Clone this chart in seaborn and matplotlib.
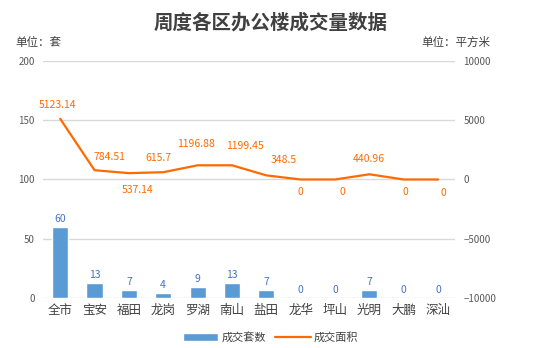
import matplotlib
matplotlib.use("Agg")
import matplotlib.pyplot as plt
import seaborn as sns
import pandas as pd

categories = ["全市", "宝安", "福田", "龙岗", "罗湖", "南山", "盐田", "龙华", "坪山", "光明", "大鹏", "深汕"]
units = [60, 13, 7, 4, 9, 13, 7, 0, 0, 7, 0, 0]
area = [5123.14, 784.51, 537.14, 615.7, 1196.88, 1199.45, 348.5, 0, 0, 440.96, 0, 0]
area_labels = ["5123.14", "784.51", "537.14", "615.7", "1196.88", "1199.45", "348.5", "0", "0", "440.96", "0", "0"]

sns.set_theme(style="white")
plt.rcParams['font.family'] = ['Noto Sans CJK SC', 'DejaVu Sans']

df = pd.DataFrame({"区": categories, "成交套数": units, "成交面积": area, "idx": range(len(categories))})

fig = plt.figure(figsize=(5.41, 3.48), dpi=100)
ax = fig.add_axes([0.0795, 0.1437, 0.762, 0.681])
bar_color = "#5B9BD5"
line_color = "#FF6A00"
grid_color = "#D9D9D9"
tick_color = "#595959"

sns.barplot(data=df, x="区", y="成交套数", color=bar_color, width=0.47, ax=ax, saturation=1, label="成交套数")
ax.set_ylim(0, 200)
ax.set_yticks([0, 50, 100, 150, 200])
ax.set_xlim(-0.5, len(categories) - 0.5)
ax.set_xlabel("")
ax.set_ylabel("")
for s in ax.spines.values():
    s.set_visible(False)
ax.grid(axis="y", color=grid_color, linewidth=1)
ax.set_axisbelow(True)
ax.tick_params(axis="y", length=0, labelsize=7, colors=tick_color, pad=6)
ax.tick_params(axis="x", length=0, labelsize=9, colors="#404040", pad=4)

for i, v in enumerate(units):
    ax.annotate(str(v), (i, v), xytext=(0, 3), textcoords="offset pixels",
                ha="center", va="bottom", fontsize=7.5, color="#4472C4")

ax2 = ax.twinx()
sns.lineplot(data=df, x="idx", y="成交面积", color=line_color, linewidth=1.6, ax=ax2, label="成交面积", legend=False)
ax2.set_ylim(-10000, 10000)
ax2.set_yticks([-10000, -5000, 0, 5000, 10000])
ax2.set_xlim(-0.5, len(categories) - 0.5)
ax2.set_ylabel("")
ax2.set_xlabel("")
for s in ax2.spines.values():
    s.set_visible(False)
ax2.tick_params(axis="y", length=0, labelsize=7, colors=tick_color, pad=6)
ax2.grid(False)

offsets = [(-3, 9), (15, 8), (9, -12), (-5, 9), (-2, 16), (13, 14), (17, 10),
           (0, -8), (7, -8), (0, 10), (2, -8), (5, -9)]
for i, (v, lab) in enumerate(zip(area, area_labels)):
    dx, dy = offsets[i]
    ax2.annotate(lab, (i, v), xytext=(dx, dy), textcoords="offset pixels",
                 ha="center", va="bottom" if dy > 0 else "top", fontsize=7.5, color=line_color)

fig.text(0.5, 0.935, "周度各区办公楼成交量数据", ha="center", va="center",
         fontsize=14, fontweight="bold", color="#404040")
fig.text(0.028, 0.878, "单位：套", ha="left", va="center", fontsize=8.3, color="#404040")
fig.text(0.907, 0.878, "单位：平方米", ha="right", va="center", fontsize=8.3, color="#404040")

h1, l1 = ax.get_legend_handles_labels()
h2, l2 = ax2.get_legend_handles_labels()
if ax.get_legend() is not None:
    ax.get_legend().remove()
fig.legend(h1 + h2, l1 + l2, loc="center", bbox_to_anchor=(0.5, 0.03), ncol=2, frameon=False,
           fontsize=8, labelcolor="#404040", handlelength=3.2, handleheight=0.8, columnspacing=0.8, handletextpad=0.3)

fig.savefig("out.png", dpi=100)
